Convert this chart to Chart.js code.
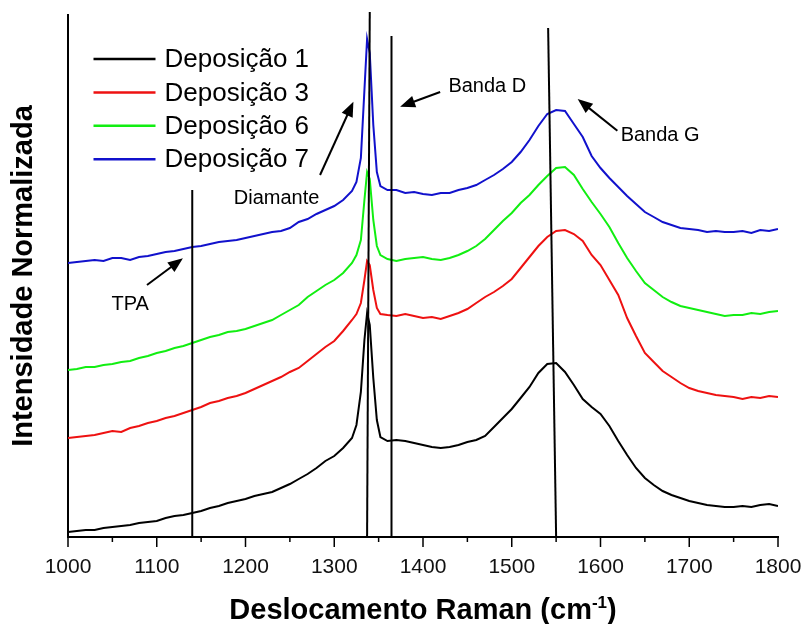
<!DOCTYPE html>
<html lang="pt">
<head>
<meta charset="utf-8">
<title>Espectros Raman</title>
<script src="https://cdn.jsdelivr.net/npm/chart.js@4/dist/chart.umd.min.js"></script>
<style>
  html, body { margin: 0; padding: 0; background: #fff; }
  #wrap { width: 803px; height: 624px; }
</style>
</head>
<body>
<div id="wrap"><canvas id="raman" width="803" height="624"></canvas></div>
<script>
'use strict';

// ── Data (normalised intensity in arbitrary units) ──────────────────────────
const ramanShift = [
  1000, 1010, 1020, 1030, 1040, 1050, 1060, 1070, 1080, 1090,
  1100, 1110, 1120, 1130, 1140, 1150, 1160, 1170, 1180, 1190,
  1200, 1210, 1220, 1230, 1240, 1250, 1260, 1270, 1280, 1290,
  1300, 1310, 1320, 1325, 1330, 1334, 1337, 1340, 1344, 1348,
  1352, 1360, 1370, 1380, 1390, 1400, 1410, 1420, 1430, 1440,
  1450, 1460, 1470, 1480, 1490, 1500, 1510, 1520, 1530, 1540,
  1550, 1560, 1570, 1580, 1590, 1600, 1610, 1620, 1630, 1640,
  1650, 1660, 1670, 1680, 1690, 1700, 1710, 1720, 1730, 1740,
  1750, 1760, 1770, 1780, 1790, 1800
];

const dep1 = [
  5, 6, 7, 7, 9, 10, 11, 12, 14, 15,
  16, 19, 21, 22, 24, 26, 29, 31, 34, 36,
  38, 41, 43, 45, 49, 53, 58, 63, 69, 76,
  81, 89, 99, 112, 145, 197, 224, 212, 159, 117,
  100, 96, 97, 96, 94, 92, 90, 89, 90, 92,
  95, 97, 101, 110, 119, 128, 139, 150, 164, 173,
  174, 165, 152, 138, 130, 123, 111, 96, 82, 69,
  59, 52, 46, 42, 39, 36, 34, 32, 31, 30,
  30, 31, 30, 32, 33, 31
];

const dep3 = [
  99, 100, 101, 102, 104, 106, 105, 109, 111, 114,
  116, 119, 121, 124, 127, 130, 134, 136, 139, 141,
  144, 148, 152, 156, 160, 165, 169, 176, 183, 190,
  196, 206, 217, 223, 234, 257, 276, 272, 247, 229,
  223, 222, 221, 223, 221, 219, 220, 218, 221, 224,
  228, 234, 240, 245, 251, 258, 269, 280, 291, 300,
  306, 307, 303, 296, 282, 272, 257, 242, 219, 201,
  184, 175, 166, 160, 154, 149, 146, 144, 142, 141,
  140, 138, 140, 139, 141, 140
];

const dep6 = [
  167, 168, 170, 170, 172, 173, 175, 176, 179, 181,
  184, 186, 189, 191, 194, 197, 200, 202, 205, 206,
  208, 211, 214, 217, 222, 227, 232, 240, 246, 252,
  257, 264, 274, 282, 297, 337, 365, 358, 317, 291,
  282, 278, 276, 278, 279, 280, 278, 277, 279, 282,
  286, 291, 298, 307, 316, 324, 334, 342, 352, 361,
  369, 370, 362, 348, 335, 323, 310, 294, 279, 266,
  254, 247, 240, 235, 231, 229, 227, 225, 223, 221,
  222, 222, 224, 223, 225, 226
];

const dep7 = [
  274, 275, 276, 277, 276, 279, 279, 277, 280, 281,
  283, 285, 286, 288, 290, 291, 293, 295, 296, 297,
  299, 301, 303, 305, 306, 309, 315, 318, 323, 327,
  331, 337, 346, 355, 379, 447, 498, 484, 412, 365,
  351, 347, 347, 344, 345, 343, 342, 344, 344, 347,
  349, 352, 357, 362, 368, 375, 385, 397, 411, 423,
  427, 426, 413, 400, 381, 369, 359, 350, 341, 333,
  325, 320, 315, 312, 309, 308, 307, 305, 306, 305,
  305, 306, 304, 307, 306, 308
];

const seriesNames  = ['Deposição 1', 'Deposição 3', 'Deposição 6', 'Deposição 7'];
const seriesColors = ['#000000', '#ee1111', '#11ee11', '#1111cc'];
const xMin = 1000, xMax = 1800, xStep = 100, xMinorStep = 50;
const yMin = 0, yMax = 522;

// band markers (data units): straight guide lines and labelled arrows
const guideLines = [
  { x1: 1140,   y1: 347, x2: 1140,   y2: 0 },
  { x1: 1340,   y1: 525, x2: 1337,   y2: 0 },
  { x1: 1364.5, y1: 501, x2: 1364.5, y2: 0 },
  { x1: 1541,   y1: 509, x2: 1550,   y2: 0 },
];
const callouts = [
  { text: 'TPA',      tx: 1070,   ty: 227, align: 'center', from: [1089, 252],   to: [1129.5, 278.7] },
  { text: 'Diamante', tx: 1235,   ty: 333, align: 'center', from: [1284, 362],   to: [1321.6, 435.3] },
  { text: 'Banda D',  tx: 1428.6, ty: 445, align: 'left',   from: [1419.3, 445], to: [1374.2, 430.3] },
  { text: 'Banda G',  tx: 1622.7, ty: 396, align: 'left',   from: [1619, 406.3], to: [1574.3, 438] },
];

const FONT = '"Liberation Sans", Arial, Helvetica, sans-serif';

// ── Helpers ──────────────────────────────────────────────────────────────────
function pairs(ys) { return ramanShift.map((x, i) => ({ x, y: ys[i] })); }

function drawArrow(ctx, x1, y1, x2, y2) {
  const a = Math.atan2(y2 - y1, x2 - x1);
  const len = 15, half = 6;
  const bx = x2 - len * Math.cos(a), by = y2 - len * Math.sin(a);
  ctx.beginPath();
  ctx.moveTo(x1, y1);
  ctx.lineTo(bx + 2 * Math.cos(a), by + 2 * Math.sin(a));
  ctx.stroke();
  ctx.beginPath();
  ctx.moveTo(x2, y2);
  ctx.lineTo(bx + half * Math.sin(a), by - half * Math.cos(a));
  ctx.lineTo(bx - half * Math.sin(a), by + half * Math.cos(a));
  ctx.closePath();
  ctx.fill();
}

// ── Plugins: ticks, band markers, legend, x title ───────────────────────────
const decorations = {
  id: 'decorations',
  afterDatasetsDraw(chart) {
    const { ctx, chartArea } = chart;
    const xs = chart.scales.x, ys = chart.scales.y;
    ctx.save();
    ctx.strokeStyle = '#000';
    ctx.fillStyle = '#000';

    // major + minor ticks (pointing down)
    ctx.lineWidth = 1.5;
    for (let v = xMin; v <= xMax; v += xMinorStep) {
      const px = xs.getPixelForValue(v);
      const major = (v - xMin) % xStep === 0;
      ctx.beginPath();
      ctx.moveTo(px, chartArea.bottom);
      ctx.lineTo(px, chartArea.bottom + (major ? 10 : 5));
      ctx.stroke();
    }

    // guide lines
    ctx.lineWidth = 2;
    guideLines.forEach(g => {
      ctx.beginPath();
      ctx.moveTo(xs.getPixelForValue(g.x1), ys.getPixelForValue(g.y1));
      ctx.lineTo(xs.getPixelForValue(g.x2), ys.getPixelForValue(g.y2));
      ctx.stroke();
    });

    // callouts
    ctx.font = '20px ' + FONT;
    ctx.textBaseline = 'alphabetic';
    callouts.forEach(c => {
      ctx.textAlign = c.align;
      ctx.fillText(c.text, xs.getPixelForValue(c.tx), ys.getPixelForValue(c.ty));
      drawArrow(ctx,
        xs.getPixelForValue(c.from[0]), ys.getPixelForValue(c.from[1]),
        xs.getPixelForValue(c.to[0]), ys.getPixelForValue(c.to[1]));
    });

    // legend
    ctx.font = '26px ' + FONT;
    ctx.textAlign = 'left';
    ctx.textBaseline = 'middle';
    chart.data.datasets.forEach((ds, i) => {
      const y = chartArea.top + 44 + i * 33.4;
      const x0 = chartArea.left + 25.5;
      ctx.strokeStyle = ds.borderColor;
      ctx.lineWidth = 2.5;
      ctx.beginPath();
      ctx.moveTo(x0, y);
      ctx.lineTo(x0 + 62, y);
      ctx.stroke();
      ctx.fillStyle = '#000';
      ctx.fillText(ds.label, x0 + 71, y + 1);
    });

    // x axis title with superscript
    const main1 = 'Deslocamento Raman (cm', sup = '-1', main2 = ')';
    const bold = 'bold 29px ' + FONT, supFont = 'bold 17px ' + FONT;
    ctx.textBaseline = 'alphabetic';
    ctx.font = bold;
    const w1 = ctx.measureText(main1).width, w3 = ctx.measureText(main2).width;
    ctx.font = supFont;
    const w2 = ctx.measureText(sup).width;
    let tx = (chartArea.left + chartArea.right) / 2 - (w1 + w2 + w3) / 2;
    const base = 619;
    ctx.fillStyle = '#000';
    ctx.font = bold;   ctx.fillText(main1, tx, base); tx += w1;
    ctx.font = supFont; ctx.fillText(sup, tx, base - 11); tx += w2;
    ctx.font = bold;   ctx.fillText(main2, tx, base);
    ctx.restore();
  }
};

// ── Chart ────────────────────────────────────────────────────────────────────
const series = [dep1, dep3, dep6, dep7];

new Chart(document.getElementById('raman').getContext('2d'), {
  type: 'line',
  data: {
    datasets: series.map((ys, i) => ({
      label: seriesNames[i],
      data: pairs(ys),
      borderColor: seriesColors[i],
      borderWidth: 2,
      pointRadius: 0,
      tension: 0,
      fill: false,
    })),
  },
  options: {
    responsive: false,
    animation: false,
    devicePixelRatio: 1,
    layout: { padding: { left: 0, right: 25, top: 15, bottom: 35 } },
    plugins: {
      legend: { display: false },
      tooltip: { enabled: false },
    },
    scales: {
      x: {
        type: 'linear',
        min: xMin,
        max: xMax,
        afterFit: scale => { scale.height = 52; },
        ticks: {
          stepSize: xStep,
          color: '#111',
          padding: 0,
          maxRotation: 0,
          font: { family: FONT, size: 21 },
          callback: v => String(v),
        },
        grid: {
          display: true,
          drawOnChartArea: false,
          drawTicks: true,
          tickLength: 18,
          tickColor: 'rgba(0,0,0,0)',
        },
        border: { display: true, color: '#000', width: 2 },
      },
      y: {
        min: yMin,
        max: yMax,
        afterFit: scale => { scale.width = 68; },
        ticks: { display: false },
        grid: { display: false, drawTicks: false },
        border: { display: true, color: '#000', width: 2 },
        title: {
          display: true,
          text: 'Intensidade Normalizada',
          color: '#000',
          font: { family: FONT, size: 29, weight: 'bold' },
          padding: { top: 7, bottom: 26 },
        },
      },
    },
  },
  plugins: [decorations],
});
</script>
</body>
</html>
